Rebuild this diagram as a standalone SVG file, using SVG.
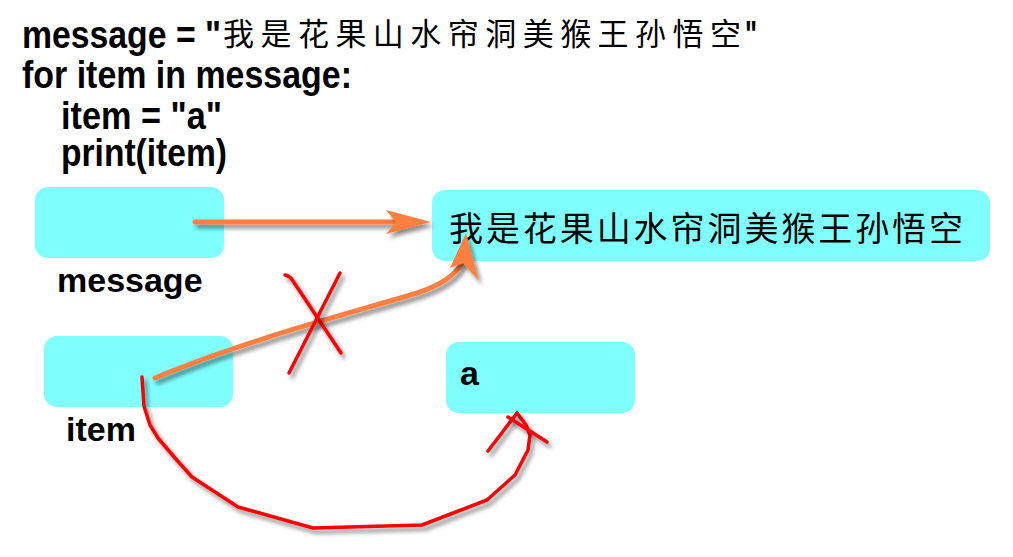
<svg xmlns="http://www.w3.org/2000/svg" width="1013" height="557" viewBox="0 0 1013 557">
  <defs>
    <filter id="shadow" filterUnits="userSpaceOnUse" x="0" y="0" width="1013" height="557">
      <feDropShadow dx="3" dy="4" stdDeviation="2" flood-color="#000" flood-opacity="0.45"/>
    </filter>
    <style>
      .code { font-family: "Liberation Sans", Arial, sans-serif; font-weight: bold; font-size: 38px; fill: #000; }
      .cjk { font-family: "Noto Sans CJK SC", sans-serif; font-weight: normal; fill: #000; }
      .label { font-family: "Liberation Sans", Arial, sans-serif; font-weight: bold; font-size: 34px; fill: #000; }
      .box { fill: #80FFFF; }
      .orange { fill: none; stroke: #FF7F40; stroke-width: 5; stroke-linecap: round; filter: url(#shadow); }
      .orangehead { fill: #FF7F40; stroke: none; filter: url(#shadow); }
      .red { fill: none; stroke: #FF0000; stroke-width: 3.5; stroke-linecap: round; stroke-linejoin: round; filter: url(#shadow); }
    </style>
  </defs>
  <rect width="1013" height="557" fill="#fff"/>

  <g id="code">
    <text class="code" x="22" y="48" textLength="199" lengthAdjust="spacingAndGlyphs">message = "</text>
    <text class="cjk" x="223" y="45" font-size="31" textLength="518">我是花果山水帘洞美猴王孙悟空</text>
    <text class="code" x="745" y="48" textLength="12" lengthAdjust="spacingAndGlyphs">"</text>
    <text class="code" x="22" y="88" textLength="330" lengthAdjust="spacingAndGlyphs">for item in message:</text>
    <text class="code" x="61" y="129" textLength="161" lengthAdjust="spacingAndGlyphs">item = "a"</text>
    <text class="code" x="61" y="166" textLength="166" lengthAdjust="spacingAndGlyphs">print(item)</text>
  </g>

  <g id="node-message">
    <rect class="box" x="35" y="187" width="189" height="71" rx="13"/>
    <text class="label" x="57" y="292">message</text>
  </g>

  <g id="node-string">
    <rect class="box" x="432" y="190" width="558" height="71" rx="13"/>
    <text class="cjk" x="449" y="241" font-size="34" textLength="514">我是花果山水帘洞美猴王孙悟空</text>
  </g>

  <g id="node-item">
    <rect class="box" x="44" y="336" width="189" height="71" rx="13"/>
    <text class="label" x="66" y="441">item</text>
  </g>

  <g id="node-a">
    <rect class="box" x="446" y="342" width="189" height="71" rx="13"/>
    <text class="label" x="460" y="385" font-size="33">a</text>
  </g>

  <g id="connectors">
    <line class="orange" x1="195" y1="222" x2="398" y2="222"/>
    <polygon class="orangehead" points="431,222 386,210 396,222 386,234"/>

    <path class="orange" d="M155,378 C250,338 370,308 420,292 Q452,281 462,263"/>
    <polygon class="orangehead" points="466,233 479,281 463,263 450,268"/>

    <path class="red" d="M285,275 Q290,276 293,281 L341,353"/>
    <path class="red" d="M340,273 L289,373"/>

    <polyline class="red" points="142,377 144,406 150,425 158,438 175,458 192,477 238,507 313,528 422,525 487,500 515,475 528,450 530,435 526,425 517,413"/>
    <path class="red" d="M488,451 L517,413"/>
    <path class="red" d="M508,417 L547,442"/>
  </g>
</svg>
